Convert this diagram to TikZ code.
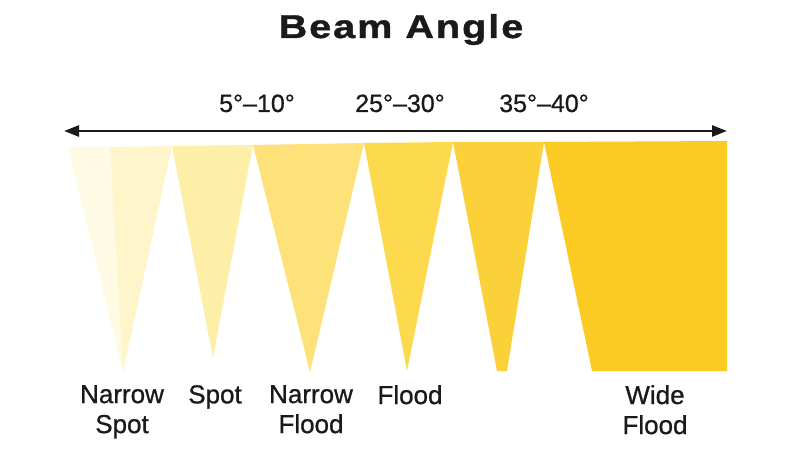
\documentclass[tikz,border=0pt]{standalone}
\usepackage{fontspec}
\setmainfont{Liberation Sans}
\newfontfamily\titlefont[FakeStretch=1.2,LetterSpace=6,FakeBold=1.2]{Liberation Sans Bold}
\newfontfamily\lblfont[FakeBold=0.8]{Liberation Sans}
\usetikzlibrary{arrows.meta}
\definecolor{ink}{HTML}{1A1A1A}
\definecolor{c1}{HTML}{FFFAE4}
\definecolor{c2}{HTML}{FFF5CB}
\definecolor{c3}{HTML}{FEEFA8}
\definecolor{c4}{HTML}{FDE27A}
\definecolor{c5}{HTML}{FDD94E}
\definecolor{c6}{HTML}{FBD13A}
\definecolor{c7}{HTML}{FBCB24}
\tikzset{
  lbl/.style={text=ink, inner sep=0pt, align=center, font=\lblfont\fontsize{26bp}{30bp}\selectfont},
  deg/.style={text=ink, inner sep=0pt, anchor=base, font=\lblfont\fontsize{25bp}{29bp}\selectfont},
  ttl/.style={text=ink, inner sep=0pt, anchor=base, font=\titlefont\fontsize{33bp}{36bp}\selectfont},
  axis/.style={draw=ink, line width=2.5bp, {Triangle[length=15bp,width=11bp]}-{Triangle[length=15bp,width=11bp]}}
}
\begin{document}
\begin{tikzpicture}[x=1bp,y=-1bp]
\useasboundingbox (0,0) rectangle (800,450);
\fill[white] (0,0) rectangle (800,450);
% title and angle ranges
\node[ttl] (title) at (401,38) {Beam Angle};
\node[deg] (d1) at (257,112) {5°–10°};
\node[deg] (d2) at (400,112) {25°–30°};
\node[deg] (d3) at (544,112) {35°–40°};
% axis
\coordinate (aL) at (64,131);
\coordinate (aR) at (727,131);
\draw[axis] (aL) -- (aR);
% beams
\fill[c1] (68,147) -- (110,147) -- (123,372) -- cycle;
\fill[c2] (110,147) -- (172,146) -- (123,372) -- cycle;
\fill[c3] (172,146) -- (253,145) -- (213,358) -- cycle;
\fill[c4] (253,145) -- (364,143) -- (310,372) -- cycle;
\fill[c5] (364,143) -- (453,142) -- (407,371) -- cycle;
\fill[c6] (453,142) -- (544,142) -- (507,371) -- (497,371) -- cycle;
\fill[c7] (544,142) -- (727,141) -- (727,371) -- (592,371) -- cycle;
% labels
\node[lbl, anchor=north] (nspot) at (122,385) {Narrow\\Spot};
\node[lbl, anchor=north] (spot) at (215,385) {Spot};
\node[lbl, anchor=north] (nflood) at (311,385) {Narrow\\Flood};
\node[lbl, anchor=north] (flood) at (410,385) {Flood};
\node[lbl, anchor=north] (wflood) at (655,385) {Wide\\Flood};
\end{tikzpicture}
\end{document}
